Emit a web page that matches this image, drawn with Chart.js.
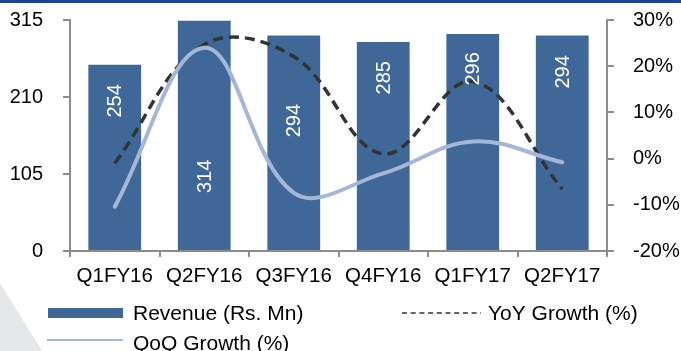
<!DOCTYPE html>
<html>
<head>
<meta charset="utf-8">
<script src="https://cdn.jsdelivr.net/npm/chart.js@4/dist/chart.umd.min.js"></script>
<style>
  html, body { margin: 0; padding: 0; background: #ffffff; }
  #wrap { position: relative; width: 681px; height: 351px; }
  canvas { display: block; }
</style>
</head>
<body>
<div id="wrap"><canvas id="c" width="681" height="351"></canvas></div>
<script>
// ---- data ----
const categories = ['Q1FY16', 'Q2FY16', 'Q3FY16', 'Q4FY16', 'Q1FY17', 'Q2FY17'];
const revenue = [254, 314, 294, 285, 296, 294];
const yoyGrowth = [-1.0, 24.7, 22.1, 1.0, 16.7, -6.6];
const qoqGrowth = [-10.4, 24.0, -7.4, -3.2, 3.7, -0.8];
const leftTicks = [0, 105, 210, 315];
const rightTicks = [-20, -10, 0, 10, 20, 30];
const seriesNames = ['Revenue (Rs. Mn)', 'YoY Growth (%)', 'QoQ Growth (%)'];

const FONT = "'Liberation Sans', Arial, sans-serif";
const AXIS = '#8c8c8c';
const BAR = '#3f6899';
const QOQ = '#a4b7d7';
const YOY = '#333333';

// where each value label sits inside its bar (fraction of bar height from the top)
const LABEL_FRAC = [0.195, 0.679, 0.397, 0.172, 0.162, 0.17];

const decor = {
  id: 'decor',
  beforeDraw(chart) {
    const ctx = chart.ctx;
    ctx.save();
    ctx.fillStyle = '#e6e7e9';
    ctx.beginPath();
    ctx.moveTo(0, 283); ctx.lineTo(42, 351); ctx.lineTo(0, 351); ctx.closePath();
    ctx.fill();
    ctx.fillStyle = '#21409a';
    ctx.fillRect(0, 0, 681, 3);
    ctx.restore();
  }
};

const barLabels = {
  id: 'barLabels',
  afterDatasetsDraw(chart) {
    const ctx = chart.ctx;
    const idx = chart.data.datasets.findIndex(d => d.type === 'bar');
    const meta = chart.getDatasetMeta(idx);
    ctx.save();
    ctx.fillStyle = '#ffffff';
    ctx.font = '20px ' + FONT;
    ctx.textAlign = 'center';
    ctx.textBaseline = 'middle';
    meta.data.forEach((bar, i) => {
      const y = bar.y + (bar.base - bar.y) * LABEL_FRAC[i];
      ctx.save();
      ctx.translate(bar.x, y);
      ctx.rotate(-Math.PI / 2);
      ctx.fillText(String(chart.data.datasets[idx].data[i]), 0, 1);
      ctx.restore();
    });
    ctx.restore();
  }
};

const legendDraw = {
  id: 'legendDraw',
  afterDraw(chart) {
    const ctx = chart.ctx;
    ctx.save();
    ctx.font = '21px ' + FONT;
    ctx.textBaseline = 'middle';
    ctx.textAlign = 'left';
    // Revenue
    ctx.fillStyle = BAR;
    ctx.fillRect(48, 308, 75, 10);
    ctx.fillStyle = '#000';
    ctx.fillText(seriesNames[0], 133, 314);
    // YoY
    ctx.strokeStyle = YOY;
    ctx.lineWidth = 1.5;
    ctx.setLineDash([5, 3.7]);
    ctx.beginPath(); ctx.moveTo(402, 313); ctx.lineTo(481, 313); ctx.stroke();
    ctx.setLineDash([]);
    ctx.fillText(seriesNames[1], 488, 314);
    // QoQ
    ctx.strokeStyle = QOQ;
    ctx.lineWidth = 2;
    ctx.beginPath(); ctx.moveTo(47, 340); ctx.lineTo(123, 340); ctx.stroke();
    ctx.fillText(seriesNames[2], 133, 344);
    ctx.restore();
  }
};

function fixV(width) {
  return function (s) { s.width = width; s.paddingTop = 0; s.paddingBottom = 0; };
}

new Chart(document.getElementById('c'), {
  data: {
    labels: categories,
    datasets: [
      {
        type: 'line', label: seriesNames[2], data: qoqGrowth, yAxisID: 'y1',
        borderColor: QOQ, borderWidth: 4, pointRadius: 0, tension: 0.38,
        fill: false, order: 1, borderCapStyle: 'round'
      },
      {
        type: 'line', label: seriesNames[1], data: yoyGrowth, yAxisID: 'y1',
        borderColor: YOY, borderWidth: 3.5, borderDash: [10, 6], pointRadius: 0, tension: 0.38,
        fill: false, order: 2
      },
      {
        type: 'bar', label: seriesNames[0], data: revenue, yAxisID: 'y',
        backgroundColor: BAR, barPercentage: 0.59, categoryPercentage: 1.0, order: 3
      }
    ]
  },
  options: {
    responsive: false,
    animation: false,
    devicePixelRatio: 1,
    layout: { padding: { top: 20, bottom: 0, left: 0, right: 0 } },
    plugins: {
      legend: { display: false },
      tooltip: { enabled: false }
    },
    scales: {
      x: {
        afterFit(s) { s.height = 100; },
        grid: { drawOnChartArea: false, offset: true, color: AXIS, tickLength: 6, lineWidth: 2 },
        border: { color: AXIS, width: 2 },
        ticks: { color: '#000', font: { family: FONT, size: 20.5 }, padding: 7, maxRotation: 0 }
      },
      y: {
        position: 'left', min: 0, max: 315,
        afterFit: fixV(70),
        afterBuildTicks(s) { s.ticks = leftTicks.map(v => ({ value: v })); },
        grid: { drawOnChartArea: false, color: AXIS, tickLength: 7, lineWidth: 2 },
        border: { color: AXIS, width: 2 },
        ticks: { color: '#000', font: { family: FONT, size: 20 }, padding: 20 }
      },
      y1: {
        position: 'right', min: -20, max: 30,
        afterFit: fixV(74),
        afterBuildTicks(s) { s.ticks = rightTicks.map(v => ({ value: v })); },
        grid: { drawOnChartArea: false, color: AXIS, tickLength: 7, lineWidth: 2 },
        border: { color: AXIS, width: 2 },
        ticks: { color: '#000', font: { family: FONT, size: 20 }, padding: 19, callback: v => v + '%' }
      }
    }
  },
  plugins: [decor, barLabels, legendDraw]
});
</script>
</body>
</html>
